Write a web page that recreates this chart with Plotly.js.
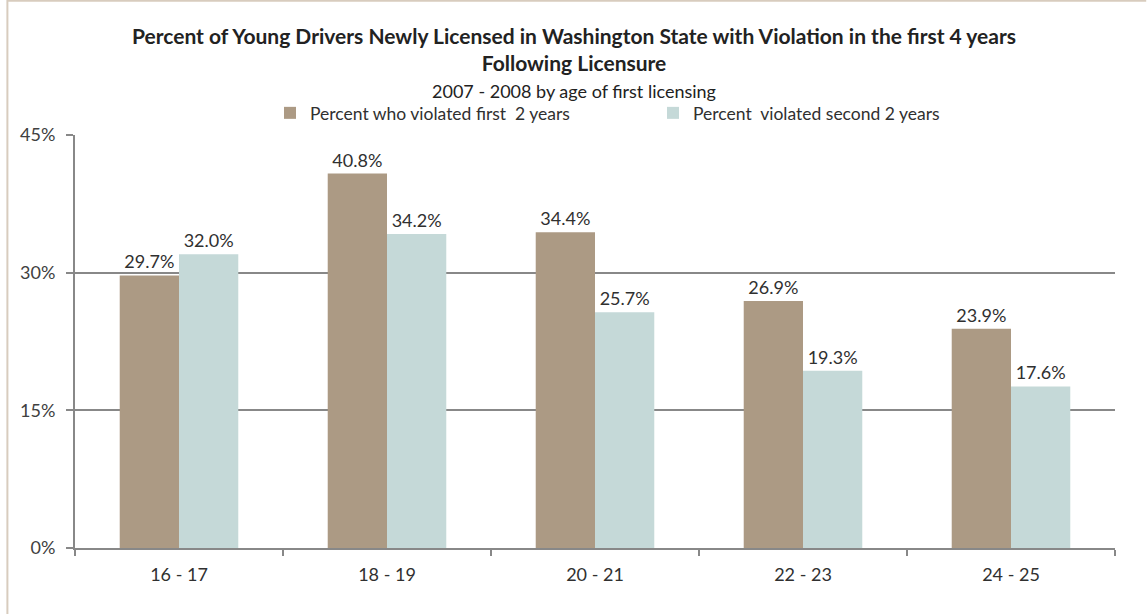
<!DOCTYPE html>
<html><head><meta charset="utf-8">
<script src="https://cdn.plot.ly/plotly-3.0.1.min.js"></script>
<style>html,body{margin:0;padding:0;background:#fff}#c{width:1148px;height:614px}</style>
</head><body><div id="c"></div>
<script>
const categories = ["16 - 17", "18 - 19", "20 - 21", "22 - 23", "24 - 25"];
const firstTwo = [29.7, 40.8, 34.4, 26.9, 23.9];
const secondTwo = [32.0, 34.2, 25.7, 19.3, 17.6];
const seriesNames = ["Percent who violated first  2 years", "Percent  violated second 2 years"];
const yTickVals = [0, 15, 30, 45];
const yTickText = ["0%", "15%", "30%", "45%"];
const fontFam = "Lato";
const fmt = v => v.toFixed(1) + "%";
const traces = [
  {type:"bar", name:seriesNames[0], x:categories, y:firstTwo, marker:{color:"#AC9A84"},
   text:firstTwo.map(fmt), textposition:"outside", cliponaxis:false,
   textfont:{family:fontFam, size:18, color:"#303030"}},
  {type:"bar", name:seriesNames[1], x:categories, y:secondTwo, marker:{color:"#C5D9D8"},
   text:secondTwo.map(fmt), textposition:"outside", cliponaxis:false,
   textfont:{family:fontFam, size:18, color:"#303030"}}
];
const layout = {
  width:1148, height:614,
  paper_bgcolor:"#ffffff", plot_bgcolor:"#ffffff",
  font:{family:fontFam, size:18, color:"#303030"},
  margin:{l:75, r:33, t:135, b:66},
  barmode:"group", bargap:0.43, bargroupgap:0,
  title:{text:"<b>Percent of Young Drivers Newly Licensed in Washington State with Violation in the first 4 years</b><br><b>Following Licensure</b><br><span style='font-size:18px'>2007 - 2008 by age of first licensing</span>",
    font:{family:fontFam, size:21, color:"#222"}, x:0.5, xanchor:"center", y:0.929, yanchor:"top"},
  showlegend:true,
  legend:{orientation:"h", x:0.1875, xanchor:"left", y:0.816, yref:"container", yanchor:"middle",
    font:{family:fontFam, size:17.5, color:"#303030"}, entrywidth:338, traceorder:"normal"},
  xaxis:{type:"category", showgrid:false, showline:true, linecolor:"#888", linewidth:2,
    ticks:"outside", tickson:"boundaries", ticklen:6, tickcolor:"#888", tickwidth:2, ticklabelstandoff:9,
    tickfont:{family:fontFam, size:18, color:"#303030"}},
  yaxis:{range:[0,45], tickmode:"array", tickvals:yTickVals, ticktext:yTickText, showgrid:true, gridcolor:"#888", gridwidth:2,
    showline:true, linecolor:"#888", linewidth:2, ticks:"outside", ticklen:7, tickcolor:"#888", tickwidth:2, ticklabelstandoff:7,
    zeroline:false, tickfont:{family:fontFam, size:18, color:"#404040"}},
  shapes:[
    {type:"line", xref:"paper", yref:"paper", x0:-0.065, x1:-0.065, y0:-0.16, y1:1.33, line:{color:"#D8CCBE", width:2}},
    {type:"line", xref:"paper", yref:"paper", x0:-0.065, x1:1.03, y0:1.325, y1:1.325, line:{color:"#D8CCBE", width:2}}
  ]
};
Plotly.newPlot("c", traces, layout, {displayModeBar:false});
</script></body></html>
